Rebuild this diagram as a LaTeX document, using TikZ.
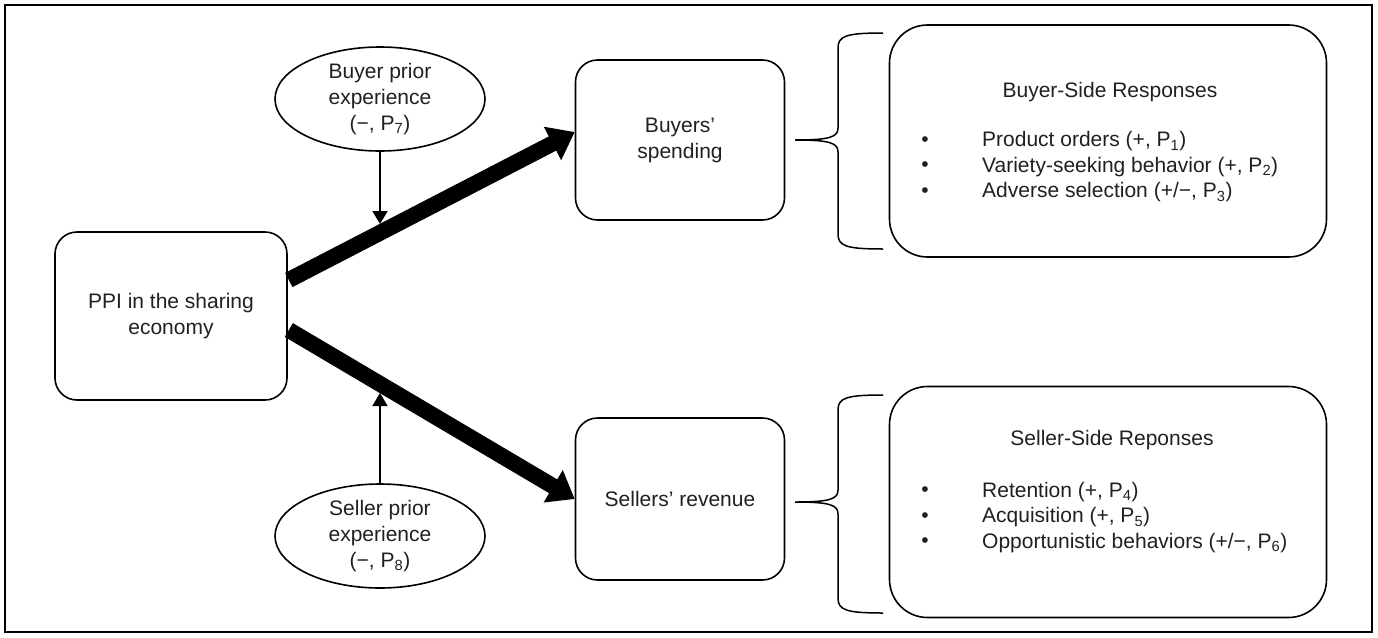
\documentclass[tikz,border=0pt]{standalone}
\usepackage{fontspec}
\setmainfont{Liberation Sans}
\usepackage{tikz}
\usetikzlibrary{positioning, arrows.meta, calc, shapes.geometric}
\definecolor{inkgray}{HTML}{231F20}

\begin{document}
\begin{tikzpicture}[x=1pt, y=-1pt, font=\fontsize{21}{26}\selectfont, text=inkgray,
  roundbox/.style={draw, line width=1.6pt, rounded corners=22pt, align=center, inner sep=0pt},
  respbox/.style={draw, line width=1.6pt, rounded corners=38pt, minimum width=437pt, inner sep=0pt},
  priorell/.style={draw, ellipse, line width=1.6pt, minimum width=210pt, minimum height=104pt, inner sep=0pt, align=center},
  mainarrow/.style={line width=16pt, -{Triangle[length=25pt,width=36pt]}},
  modarrow/.style={line width=1.8pt, -{Triangle[length=13pt,width=15pt]}},
  respitem/.style={anchor=west, inner sep=0pt},
  bulletmark/.style={inner sep=0pt}]
  \useasboundingbox (0,0) rectangle (1378,637);
  \draw[line width=1.6pt] (5,5) rectangle (1372,632);

  % central construct and outcomes
  \node[roundbox, minimum width=232pt, minimum height=168pt] (ppi) at (171,316) {PPI in the sharing\\economy};
  \node[roundbox, minimum width=209pt, minimum height=160pt] (bspend) at (680,140) {Buyers’\\spending};
  \node[roundbox, minimum width=209pt, minimum height=162pt] (srev) at (680,499) {Sellers’ revenue};

  % moderators
  \node[priorell] (bprior) at (380,99) {Buyer prior\\experience\\(−, P\textsubscript{7})};
  \node[priorell] (sprior) at (380,536) {Seller prior\\experience\\(−, P\textsubscript{8})};

  \draw[mainarrow] ($(ppi.east)+(1,-36)$) -- ($(bspend.west)+(0,-8)$);
  \draw[mainarrow] ($(ppi.east)+(1,14)$) -- (srev.west);

  \coordinate (bhit) at (380,224);
  \coordinate (shit) at (380,393);
  \draw[modarrow] (bprior.south) -- (bhit);
  \draw[modarrow] (sprior.north) -- (shit);

  % braces
  \draw[line width=1.5pt] (883,33) .. controls (846,33) and (838,36) .. (838,48) -- (838,128)
    .. controls (838,137) and (830,140) .. (795,140) .. controls (830,140) and (838,143) .. (838,152)
    -- (838,234) .. controls (838,246) and (846,249) .. (883,249);
  \draw[line width=1.5pt] (883,395) .. controls (846,395) and (838,398) .. (838,410) -- (838,490)
    .. controls (838,499) and (830,502) .. (795,502) .. controls (830,502) and (838,505) .. (838,514)
    -- (838,598) .. controls (838,610) and (846,613) .. (883,613);

  % response boxes
  \node[respbox, minimum height=232pt] (bside) at (1108,141) {};
  \node (btitle) at (1110,92) {Buyer-Side Responses};
  \foreach \txt [count=\i] in {{Product orders (+, P\textsubscript{1})},
      {Variety-seeking behavior (+, P\textsubscript{2})},
      {Adverse selection (+/−, P\textsubscript{3})}} {
    \node[bulletmark] (bbul\i) at (925,116+25.5*\i) {•};
    \node[respitem] (bitem\i) at (982,116+25.5*\i) {\txt};
  }

  \node[respbox, minimum height=231pt] (sside) at (1108,502) {};
  \node (stitle) at (1112,440) {Seller-Side Reponses};
  \foreach \txt [count=\i] in {{Retention (+, P\textsubscript{4})},
      {Acquisition (+, P\textsubscript{5})},
      {Opportunistic behaviors (+/−, P\textsubscript{6})}} {
    \node[bulletmark] (sbul\i) at (925,466.5+25.5*\i) {•};
    \node[respitem] (sitem\i) at (982,466.5+25.5*\i) {\txt};
  }
\end{tikzpicture}
\end{document}
